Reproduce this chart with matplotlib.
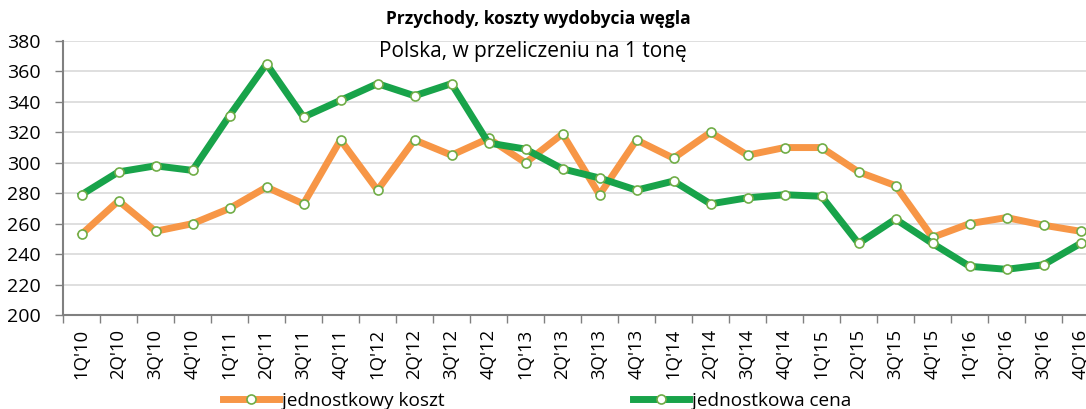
import matplotlib
matplotlib.use("Agg")
import matplotlib.pyplot as plt
from matplotlib.ticker import FixedLocator, MultipleLocator

quarters = ["1Q'10", "2Q'10", "3Q'10", "4Q'10", "1Q'11", "2Q'11", "3Q'11", "4Q'11",
            "1Q'12", "2Q'12", "3Q'12", "4Q'12", "1Q'13", "2Q'13", "3Q'13", "4Q'13",
            "1Q'14", "2Q'14", "3Q'14", "4Q'14", "1Q'15", "2Q'15", "3Q'15", "4Q'15",
            "1Q'16", "2Q'16", "3Q'16", "4Q'16"]
koszt = [253, 275, 255, 260, 270, 284, 273, 315, 282, 315, 305, 316, 300, 319,
         279, 315, 303, 320, 305, 310, 310, 294, 285, 251, 260, 264, 259, 255]
cena = [279, 294, 298, 295, 331, 365, 330, 341, 352, 344, 352, 313, 309, 296,
        290, 282, 288, 273, 277, 279, 278, 247, 263, 247, 232, 230, 233, 247]

plt.rcParams['font.family'] = ['Open Sans', 'DejaVu Sans']

W, H = 1086, 409
fig = plt.figure(figsize=(W / 100, H / 100), dpi=100)
left, right, top, bottom = 63, 1099, 41, 315
ax = fig.add_axes([left / W, 1 - bottom / H, (right - left) / W, (bottom - top) / H])

x = list(range(len(quarters)))
mk = dict(marker='o', markersize=6.5, markerfacecolor='white',
          markeredgecolor='#70AD47', markeredgewidth=1.2)
l1, = ax.plot(x, koszt, color='#F79646', lw=5, label='jednostkowy koszt', zorder=3, **mk)
l2, = ax.plot(x, cena, color='#18A34A', lw=5, label='jednostkowa cena', zorder=4, **mk)

ax.set_xlim(-0.5, len(quarters) - 0.5)
ax.set_ylim(200, 380)
ax.yaxis.set_major_locator(MultipleLocator(20))
ax.set_xticks(x)
ax.set_xticklabels(quarters, rotation=90, fontsize=13.3)
ax.xaxis.set_minor_locator(FixedLocator([i - 0.5 for i in range(len(quarters) + 1)]))
ax.tick_params(axis='x', which='major', length=0, pad=10)
ax.tick_params(axis='x', which='minor', length=6, color='#808080', width=1)
ax.tick_params(axis='y', length=6, color='#808080', width=1, labelsize=14, pad=10)
ax.grid(axis='y', color='#D9D9D9', lw=1.2)
ax.set_axisbelow(True)
for s in ['top', 'right']:
    ax.spines[s].set_visible(False)
for s in ['left', 'bottom']:
    ax.spines[s].set_color('#808080')
    ax.spines[s].set_linewidth(1.5)

fig.text(538 / W, 1 - 19 / H, 'Przychody, koszty wydobycia węgla', ha='center', va='center',
         fontsize=12.5, fontweight='bold')
fig.text(533 / W, 1 - 52 / H, 'Polska, w przeliczeniu na 1 tonę', ha='center', va='center',
         fontsize=15)

fig.legend(handles=[l1, l2], loc='center left', bbox_to_anchor=(223 / W, 1 - 401 / H),
           ncol=2, frameon=False, fontsize=13.7, handlelength=2.95, handletextpad=0.15,
           columnspacing=9.9, borderpad=0, borderaxespad=0)

fig.savefig('out.png', dpi=100)
